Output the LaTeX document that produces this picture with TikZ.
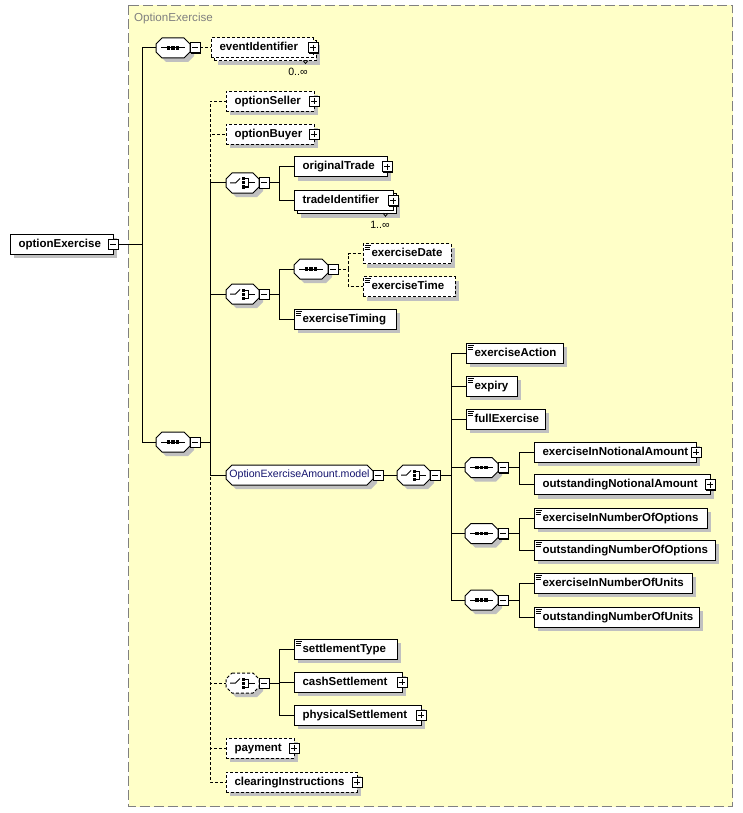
\documentclass[tikz,border=0pt]{standalone}
\usepackage{fontspec}
\setmainfont{Liberation Sans}
\usetikzlibrary{shadows}
\definecolor{bgy}{HTML}{FFFFC8}
\definecolor{shadowc}{HTML}{C0C0C0}
\definecolor{framegray}{HTML}{808080}
\definecolor{grpblue}{HTML}{14146E}
\newcommand\efont{\fontsize{11.5}{13}\selectfont\bfseries}
\newcommand\rfont{\fontsize{10.6}{12}\selectfont}
\newcommand\tfont{\fontsize{11.6}{13}\selectfont}
\tikzset{
 w/.code={\pgfmathsetlengthmacro\mytw{#1-17}\edef\mytmp{\noexpand\tikzset{text width=\mytw}}\mytmp},
 conn/.style={line width=1pt},
 dconn/.style={line width=1pt, dash pattern=on 3pt off 2pt},
 opt/.style={dash pattern=on 3pt off 2pt},
 shad/.style={general shadow={fill=shadowc, shadow xshift=4pt, shadow yshift=-4pt}},
 ebox/.style={draw, fill=white, line width=1pt, anchor=west, minimum height=20pt, inner xsep=8.5pt, inner ysep=0pt, outer sep=0pt, align=left, font=\efont, text height=8.5pt, text depth=2.5pt},
 elem/.style={ebox, shad},
 pmbox/.style={draw, fill=white, line width=1pt, minimum size=10pt, inner sep=0pt, outer sep=0pt, general shadow={fill=black, shadow xshift=1pt, shadow yshift=-1pt}},
 minus/.style={pmbox, path picture={\draw[line width=1pt] ([xshift=2pt]path picture bounding box.west) -- ([xshift=-2pt]path picture bounding box.east);}},
 plus/.style={pmbox, path picture={\draw[line width=1pt] ([xshift=2pt]path picture bounding box.west) -- ([xshift=-2pt]path picture bounding box.east) ([yshift=-2pt]path picture bounding box.north) -- ([yshift=2pt]path picture bounding box.south);}},
 octbase/.style={minimum height=20pt, inner sep=0pt, outer sep=0pt},
 octl/.style={draw, line width=1pt, fill=white},
 occ/.style={font=\rfont, inner sep=0pt},
}
\newcommand\octa[6][]{%
 \fill[shadowc] (#3+10,#4-6) -- (#3+#5-2,#4-6) -- (#3+#5+4,#4) -- (#3+#5+4,#4+8) -- (#3+#5-2,#4+14) -- (#3+10,#4+14) -- (#3+4,#4+8) -- (#3+4,#4) -- cycle;
 \draw[octl,#1] (#3+6,#4-10) -- (#3+#5-6,#4-10) -- (#3+#5,#4-4) -- (#3+#5,#4+4) -- (#3+#5-6,#4+10) -- (#3+6,#4+10) -- (#3,#4+4) -- (#3,#4-4) -- cycle;
 \node[octbase, minimum width=#5pt] (#2) at (#3+#5/2,#4) {#6};
 \node[minus, anchor=west] (#2m) at (#2.east) {};
}
\newcommand\seqsym[3]{%
 \draw[line width=1pt] (#1+5,#2) -- (#1+#3-5,#2);
 \foreach \q in {-4.5,0,4.5}{\fill (#1+#3/2+\q-1.6,#2-1.6) rectangle ++(3.2,3.2);}
}
\newcommand\chsym[2]{%
 \draw[line width=1pt] (#1+4,#2) -- (#1+9.5,#2) -- (#1+14,#2-4.5);
 \foreach \q in {-4,0,4}{\fill (#1+15.5,#2+\q-1.5) rectangle ++(3,3);}
 \draw[line width=1pt] (#1+18.5,#2-4) -- (#1+22.5,#2-4) -- (#1+22.5,#2+4) -- (#1+18.5,#2+4);
 \draw[line width=1pt] (#1+22.5,#2) -- (#1+28.5,#2);
}
\newcommand\doc[1]{\draw[line width=1pt] ([shift={(1.5,2)}]#1.north west) -- ++(6,0) ([shift={(1.5,4)}]#1.north west) -- ++(5,0) ([shift={(1.5,6)}]#1.north west) -- ++(5,0);}
\newcommand\chev[1]{\draw[line width=0.8pt] ([shift={(-13,-0.5)}]#1.south east) -- ++(2.5,3) -- ++(2.5,-3);}
\begin{document}
\begin{tikzpicture}[x=1pt,y=-1pt]
\useasboundingbox (0,0) rectangle (743,813);
\fill[white] (0,0) rectangle (743,813);
\draw[framegray, line width=1pt, dash pattern=on 10pt off 4pt, fill=bgy] (128.5,5.5) rectangle (732.5,806.5);
\node[anchor=west, inner sep=0pt, font=\tfont, text=framegray] (title) at (134,18.5) {OptionExercise};

% root
\node[elem, w=103] (root) at (10,244) {optionExercise};
\node[minus] (rootm) at (root.east) {};

% top sequences
\octa{s1}{156}{48}{34}{}
\seqsym{156}{48}{34}
\octa{s2}{156}{442}{34}{}
\seqsym{156}{442}{34}

% eventIdentifier
\node[elem, opt, w=102] (evb) at (214,51) {};
\node[ebox, opt, w=102] (ev) at (211,48) {eventIdentifier};
\chev{evb}
\node[plus] (evp) at (ev.east) {};
\node[occ] (evocc) at (298,72) {0..∞};

% sequence 2 children
\node[elem, opt, w=88] (os) at (226,101.3) {optionSeller};
\node[plus] (osp) at (os.east) {};
\node[elem, opt, w=88] (ob) at (226,134.3) {optionBuyer};
\node[plus] (obp) at (ob.east) {};

\octa{c1}{226}{183}{33}{}
\chsym{226}{183}
\node[elem, w=93] (ot) at (294,167) {originalTrade};
\node[plus] (otp) at (ot.east) {};
\node[elem, w=99] (tib) at (297,203.7) {};
\node[ebox, w=99] (ti) at (294,200.7) {tradeIdentifier};
\chev{tib}
\node[plus] (tip) at (ti.east) {};
\node[occ] (tiocc) at (380,224.5) {1..∞};

\octa{c2}{226}{294}{33}{}
\chsym{226}{294}
\octa{s3}{294}{269}{34}{}
\seqsym{294}{269}{34}
\node[elem, opt, w=88] (ed) at (363,253.5) {exerciseDate}; \doc{ed}
\node[elem, opt, w=92] (et) at (363,286.5) {exerciseTime}; \doc{et}
\node[elem, w=102] (etm) at (294,319) {exerciseTiming}; \doc{etm}

\octa{grp}{226}{475}{147}{\rfont\color{grpblue}OptionExerciseAmount.model}
\octa{c4}{397}{475}{33}{}
\chsym{397}{475}
\node[elem, w=97] (ea) at (466,353) {exerciseAction}; \doc{ea}
\node[elem, w=51] (ex) at (466,386) {expiry}; \doc{ex}
\node[elem, w=79] (fe) at (466,419) {fullExercise}; \doc{fe}
\octa{sa}{465}{467.5}{33}{}
\seqsym{465}{467.5}{33}
\octa{sb}{465}{533.5}{33}{}
\seqsym{465}{533.5}{33}
\octa{sc}{465}{600}{33}{}
\seqsym{465}{600}{33}
\node[elem, w=162] (ina) at (534,452) {exerciseInNotionalAmount};
\node[plus] (inap) at (ina.east) {};
\node[elem, w=176] (ona) at (534,484.5) {outstandingNotionalAmount};
\node[plus] (onap) at (ona.east) {};
\node[elem, w=173] (ino) at (534,518) {exerciseInNumberOfOptions}; \doc{ino}
\node[elem, w=181] (ono) at (534,550) {outstandingNumberOfOptions}; \doc{ono}
\node[elem, w=158] (inu) at (534,583) {exerciseInNumberOfUnits}; \doc{inu}
\node[elem, w=165] (onu) at (534,617) {outstandingNumberOfUnits}; \doc{onu}

\octa[opt]{c3}{226}{683}{33}{}
\chsym{226}{683}
\node[elem, w=103] (st) at (294,649) {settlementType}; \doc{st}
\node[elem, w=108] (cs) at (294,682) {cashSettlement};
\node[plus] (csp) at (cs.east) {};
\node[elem, w=127] (ps) at (294,715) {physicalSettlement};
\node[plus] (psp) at (ps.east) {};
\node[elem, opt, w=68] (pay) at (226,748) {payment};
\node[plus] (payp) at (pay.east) {};
\node[elem, opt, w=131] (clr) at (226,782) {clearingInstructions};
\node[plus] (clrp) at (clr.east) {};

% connectors
\coordinate (j0) at (142,244);
\draw[conn] (rootm.east) -- (j0);
\draw[conn] (j0) |- (s1.west);
\draw[conn] (j0) |- (s2.west);
\draw[dconn] (s1m.east) -- (ev.west);

\coordinate (j2) at (210,442);
\draw[conn] (s2m.east) -- (j2);
\draw[dconn] (j2) |- (os.west);
\draw[dconn] (j2) |- (ob.west);
\draw[dconn] (j2) |- (c3.west);
\draw[dconn] (j2) |- (pay.west);
\draw[dconn] (j2) |- (clr.west);
\draw[conn] (j2) |- (c1.west);
\draw[conn] (j2) |- (c2.west);
\draw[conn] (j2) |- (grp.west);

\coordinate (j3) at (279,183);
\draw[conn] (c1m.east) -- (j3);
\draw[conn] (j3) |- (ot.west);
\draw[conn] (j3) |- (ti.west);

\coordinate (j4) at (279,294);
\draw[conn] (c2m.east) -- (j4);
\draw[conn] (j4) |- (s3.west);
\draw[conn] (j4) |- (etm.west);

\coordinate (j5) at (348,269);
\draw[dconn] (s3m.east) -- (j5);
\draw[dconn] (j5) |- (ed.west);
\draw[dconn] (j5) |- (et.west);

\draw[conn] (grpm.east) -- (c4.west);

\coordinate (j6) at (451,475);
\draw[conn] (c4m.east) -- (j6);
\draw[conn] (j6) |- (ea.west);
\draw[conn] (j6) |- (ex.west);
\draw[conn] (j6) |- (fe.west);
\draw[conn] (j6) |- (sa.west);
\draw[conn] (j6) |- (sb.west);
\draw[conn] (j6) |- (sc.west);

\coordinate (j7) at (519,467.5);
\draw[conn] (sam.east) -- (j7);
\draw[conn] (j7) |- (ina.west);
\draw[conn] (j7) |- (ona.west);
\coordinate (j8) at (519,533.5);
\draw[conn] (sbm.east) -- (j8);
\draw[conn] (j8) |- (ino.west);
\draw[conn] (j8) |- (ono.west);
\coordinate (j9) at (519,600);
\draw[conn] (scm.east) -- (j9);
\draw[conn] (j9) |- (inu.west);
\draw[conn] (j9) |- (onu.west);

\coordinate (j10) at (279,683);
\draw[conn] (c3m.east) -- (j10);
\draw[conn] (j10) |- (st.west);
\draw[conn] (j10) |- (cs.west);
\draw[conn] (j10) |- (ps.west);
\end{tikzpicture}
\end{document}
